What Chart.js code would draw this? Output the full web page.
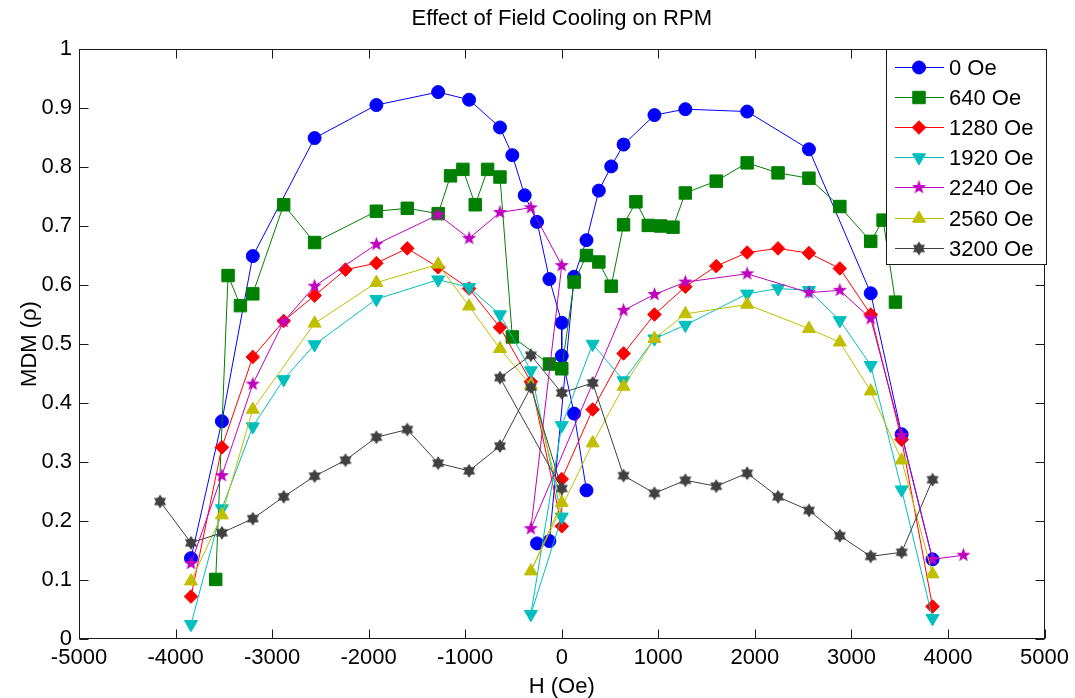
<!DOCTYPE html>
<html>
<head>
<meta charset="utf-8">
<script src="https://cdn.jsdelivr.net/npm/chart.js@4/dist/chart.umd.min.js"></script>
<style>
  html, body { margin: 0; padding: 0; background: #fff; }
</style>
</head>
<body>
<canvas id="chart" width="1075" height="698"></canvas>
<script>
// ---- data ----
const chartTitle = "Effect of Field Cooling on RPM";
const xAxisLabel = "H (Oe)";
const yAxisLabel = "MDM (\u03C1)";
const seriesLabels = ["0 Oe", "640 Oe", "1280 Oe", "1920 Oe", "2240 Oe", "2560 Oe", "3200 Oe"];

const xTickValues = [-5000, -4000, -3000, -2000, -1000, 0, 1000, 2000, 3000, 4000, 5000];
const yTickValues = [0, 0.1, 0.2, 0.3, 0.4, 0.5, 0.6, 0.7, 0.8, 0.9, 1];
const yTickLabels = ["0", "0.1", "0.2", "0.3", "0.4", "0.5", "0.6", "0.7", "0.8", "0.9", "1"];

// 0 Oe (null = break in the line)
const h0 = [-3840, -3520, -3200, -2560, -1920, -1280, -960, -640, -512, -384, -256, -128, 0, 0, 128, 256, null,
  -256, -128, 128, 256, 384, 512, 640, 960, 1280, 1920, 2560, 3200, 3520, 3840];
const m0 = [0.137, 0.369, 0.649, 0.849, 0.905, 0.927, 0.914, 0.867, 0.820, 0.752, 0.707, 0.610, 0.536, 0.480, 0.382, 0.252, null,
  0.162, 0.166, 0.614, 0.676, 0.760, 0.801, 0.838, 0.888, 0.898, 0.894, 0.830, 0.586, 0.347, 0.135];

// 640 Oe
const h640 = [-3584, -3456, -3328, -3200, -2880, -2560, -1920, -1600, -1280, -1152, -1024, -896, -768, -640, -512,
  -128, 0, 128, 256, 384, 512, 640, 768, 896, 1024, 1152, 1280, 1600, 1920, 2240, 2560, 2880, 3200, 3328, 3456];
const m640 = [0.101, 0.616, 0.565, 0.585, 0.736, 0.672, 0.725, 0.730, 0.721, 0.785, 0.796, 0.736, 0.796, 0.783, 0.512,
  0.466, 0.458, 0.605, 0.650, 0.639, 0.598, 0.702, 0.741, 0.701, 0.700, 0.698, 0.756, 0.776, 0.807, 0.790, 0.781, 0.733, 0.674, 0.710, 0.571];

// 1280 Oe
const h1280 = [-3840, -3520, -3200, -2880, -2560, -2240, -1920, -1600, -1280, -960, -640, -320, 0, 0, 320,
  640, 960, 1280, 1600, 1920, 2240, 2560, 2880, 3200, 3520, 3840];
const m1280 = [0.072, 0.325, 0.478, 0.539, 0.582, 0.626, 0.637, 0.662, 0.630, 0.594, 0.528, 0.436, 0.191, 0.271, 0.389,
  0.484, 0.550, 0.597, 0.632, 0.655, 0.662, 0.654, 0.628, 0.550, 0.338, 0.055];

// 1920 Oe
const h1920 = [-3840, -3520, -3200, -2880, -2560, -1920, -1280, -960, -640, -320, 0, -320, 0, 320, 640,
  960, 1280, 1920, 2240, 2560, 2880, 3200, 3520, 3840];
const m1920 = [0.025, 0.221, 0.360, 0.440, 0.499, 0.576, 0.609, 0.596, 0.550, 0.455, 0.207, 0.042, 0.362, 0.500, 0.438,
  0.509, 0.532, 0.585, 0.594, 0.591, 0.540, 0.464, 0.253, 0.035];

// 2240 Oe
const h2240 = [-3840, -3520, -3200, -2880, -2560, -1920, -1280, -960, -640, -320, 0, -320,
  640, 960, 1280, 1920, 2560, 2880, 3200, 3520, 3840, 4160];
const m2240 = [0.128, 0.277, 0.432, 0.538, 0.598, 0.669, 0.719, 0.679, 0.723, 0.731, 0.633, 0.187,
  0.557, 0.584, 0.605, 0.619, 0.587, 0.591, 0.543, 0.345, 0.135, 0.142];

// 2560 Oe
const h2560 = [-3840, -3520, -3200, -2560, -1920, -1280, -960, -640, -320, 0, -320,
  320, 640, 960, 1280, 1920, 2560, 2880, 3200, 3520, 3840];
const m2560 = [0.098, 0.210, 0.389, 0.535, 0.604, 0.635, 0.564, 0.492, 0.430, 0.231, 0.115,
  0.332, 0.428, 0.509, 0.551, 0.567, 0.526, 0.503, 0.420, 0.303, 0.110];

// 3200 Oe
const h3200 = [-4160, -3840, -3520, -3200, -2880, -2560, -2240, -1920, -1600, -1280, -960, -640, -320, 0,
  -640, -320, 0, 320, 640, 960, 1280, 1600, 1920, 2240, 2560, 2880, 3200, 3520, 3840];
const m3200 = [0.233, 0.163, 0.180, 0.204, 0.241, 0.276, 0.303, 0.342, 0.355, 0.298, 0.285, 0.327, 0.427, 0.255,
  0.443, 0.481, 0.417, 0.434, 0.277, 0.247, 0.269, 0.259, 0.281, 0.241, 0.218, 0.175, 0.140, 0.147, 0.270];

const seriesH = [h0, h640, h1280, h1920, h2240, h2560, h3200];
const seriesM = [m0, m640, m1280, m1920, m2240, m2560, m3200];

// matlab default colour order
const colors = ["#0000ff", "#008000", "#ff0000", "#00bfbf", "#bf00bf", "#bfbf00", "#404040"];
const FONT = '"Liberation Sans", Arial, sans-serif';

// star markers as small canvases
function starMarker(color, points, outer, inner) {
  const c = document.createElement("canvas");
  const s = Math.ceil(outer * 2 + 2);
  c.width = s; c.height = s;
  const g = c.getContext("2d");
  g.translate(s / 2, s / 2);
  g.beginPath();
  for (let i = 0; i < points * 2; i++) {
    const r = i % 2 === 0 ? outer : inner;
    const a = -Math.PI / 2 + i * Math.PI / points;
    const px = r * Math.cos(a), py = r * Math.sin(a);
    if (i === 0) g.moveTo(px, py); else g.lineTo(px, py);
  }
  g.closePath();
  g.fillStyle = color;
  g.fill();
  return c;
}

const markers = [
  { style: "circle", radius: 6.5, rotation: 0 },
  { style: "rect", radius: 8.8, rotation: 0 },
  { style: "rectRot", radius: 6.8, rotation: 0 },
  { style: "triangle", radius: 7.5, rotation: 180 },
  { style: starMarker(colors[4], 5, 7.5, 3.1), radius: 7, rotation: 0 },
  { style: "triangle", radius: 7.5, rotation: 0 },
  { style: starMarker(colors[6], 6, 7, 4.2), radius: 7, rotation: 0 }
];

const datasets = seriesLabels.map((label, i) => ({
  label,
  data: seriesH[i].map((h, k) => ({ x: h, y: seriesM[i][k] })),
  borderColor: colors[i],
  backgroundColor: colors[i],
  pointBackgroundColor: colors[i],
  pointBorderColor: colors[i],
  borderWidth: 1,
  pointBorderWidth: 1,
  pointStyle: markers[i].style,
  pointRadius: markers[i].radius,
  pointRotation: markers[i].rotation,
  tension: 0,
  spanGaps: false,
  order: seriesLabels.length - 1 - i
}));

// box round the axes, ticks pointing inwards on all four sides
const boxAxes = {
  id: "boxAxes",
  afterDatasetsDraw(chart) {
    const { ctx, chartArea: a, scales: { x, y } } = chart;
    const L = 9;
    ctx.save();
    ctx.strokeStyle = "#1a1a1a";
    ctx.lineWidth = 1;
    const l = Math.round(a.left) + 0.5, r = Math.round(a.right) - 0.5;
    const t = Math.round(a.top) + 0.5, b = Math.round(a.bottom) - 0.5;
    ctx.strokeRect(l, t, r - l, b - t);
    ctx.beginPath();
    x.ticks.forEach((tk) => {
      const px = Math.round(x.getPixelForValue(tk.value)) + 0.5;
      ctx.moveTo(px, b); ctx.lineTo(px, b - L);
      ctx.moveTo(px, t); ctx.lineTo(px, t + L);
    });
    y.ticks.forEach((tk) => {
      const py = Math.round(y.getPixelForValue(tk.value)) + 0.5;
      ctx.moveTo(l, py); ctx.lineTo(l + L, py);
      ctx.moveTo(r, py); ctx.lineTo(r - L, py);
    });
    ctx.stroke();
    ctx.restore();
  }
};

// legend box in the top right corner, line + marker + text
const boxLegend = {
  id: "boxLegend",
  afterDraw(chart) {
    const { ctx, chartArea: a } = chart;
    const w = 161, h = 216, rowH = 30.1;
    const left = Math.round(a.right) + 2 - w, top = Math.round(a.top);
    ctx.save();
    ctx.fillStyle = "#fff";
    ctx.fillRect(left, top, w, h);
    ctx.strokeStyle = "#1a1a1a";
    ctx.lineWidth = 1;
    ctx.strokeRect(left + 0.5, top + 0.5, w - 1, h - 1);
    ctx.font = "22px " + FONT;
    ctx.textBaseline = "middle";
    ctx.textAlign = "left";
    chart.data.datasets.forEach((ds, i) => {
      const yy = Math.round(top + 18 + i * rowH) + 0.5;
      ctx.strokeStyle = ds.borderColor;
      ctx.beginPath();
      ctx.moveTo(left + 9, yy);
      ctx.lineTo(left + 58, yy);
      ctx.stroke();
      ctx.fillStyle = ds.pointBackgroundColor;
      ctx.strokeStyle = ds.pointBorderColor;
      Chart.helpers.drawPoint(ctx, {
        pointStyle: ds.pointStyle, radius: ds.pointRadius,
        rotation: ds.pointRotation, borderWidth: 1
      }, left + 33, yy);
      ctx.fillStyle = "#000";
      ctx.fillText(ds.label, left + 63, yy + 1);
    });
    ctx.restore();
  }
};

new Chart(document.getElementById("chart"), {
  type: "line",
  data: { datasets },
  plugins: [boxAxes, boxLegend],
  options: {
    responsive: false,
    animation: false,
    devicePixelRatio: 1,
    layout: { padding: { left: 0, right: 28, top: 0, bottom: 0 } },
    plugins: {
      legend: { display: false },
      tooltip: { enabled: false },
      title: {
        display: true,
        text: chartTitle,
        fullSize: false,
        color: "#000",
        font: { family: FONT, size: 22, weight: "normal", lineHeight: 1.2 },
        padding: { top: 6, bottom: 16.6 }
      }
    },
    scales: {
      x: {
        type: "linear",
        min: -5000,
        max: 5000,
        afterBuildTicks: (s) => { s.ticks = xTickValues.map((v) => ({ value: v })); },
        afterFit: (s) => { s.height = 59; },
        grid: { display: false, drawTicks: false },
        border: { display: false },
        ticks: {
          color: "#000",
          padding: 6,
          maxRotation: 0,
          autoSkip: false,
          font: { family: FONT, size: 22 },
          callback: (v) => String(v)
        },
        title: {
          display: true,
          text: xAxisLabel,
          color: "#000",
          font: { family: FONT, size: 22, lineHeight: 1 },
          padding: { top: 0, bottom: 0 }
        }
      },
      y: {
        type: "linear",
        min: 0,
        max: 1,
        afterBuildTicks: (s) => { s.ticks = yTickValues.map((v) => ({ value: v })); },
        afterFit: (s) => { s.width = 79; },
        grid: { display: false, drawTicks: false },
        border: { display: false },
        ticks: {
          color: "#000",
          padding: 7,
          autoSkip: false,
          font: { family: FONT, size: 22 },
          callback: (v, i) => yTickLabels[i]
        },
        title: {
          display: true,
          text: yAxisLabel,
          color: "#000",
          font: { family: FONT, size: 22, lineHeight: 1 },
          padding: { top: 19, bottom: 0 }
        }
      }
    }
  }
});
</script>
</body>
</html>
